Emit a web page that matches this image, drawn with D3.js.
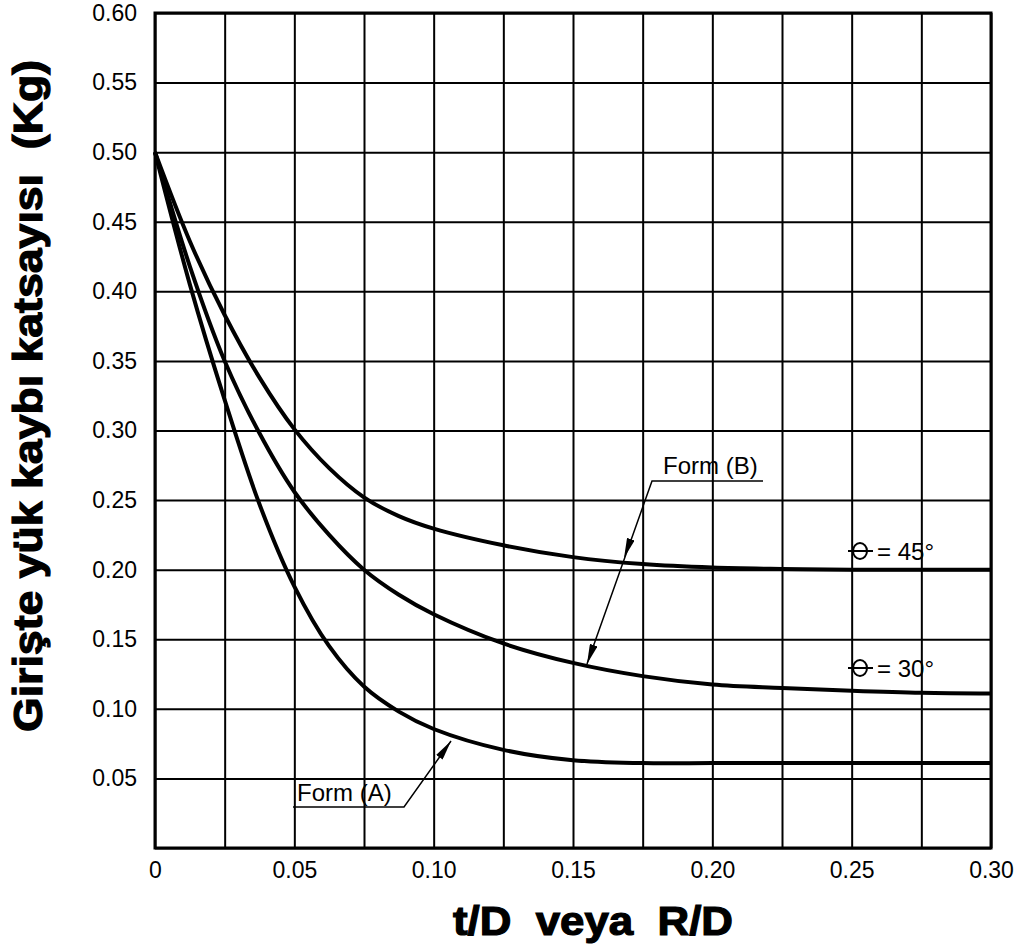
<!DOCTYPE html>
<html>
<head>
<meta charset="utf-8">
<script src="https://cdn.jsdelivr.net/npm/d3@7"></script>
<style>
  body { margin: 0; background: #fff; }
  text { font-family: "Liberation Sans", Arial, sans-serif; }
</style>
</head>
<body>
<div id="chart"></div>
<script>
var tdValues = [0, 0.0125, 0.025, 0.0375, 0.05, 0.0625, 0.075, 0.0875, 0.10, 0.125, 0.15, 0.175, 0.20, 0.225, 0.25, 0.275, 0.30];
var kg45 = [0.50, 0.436, 0.383, 0.338, 0.301, 0.273, 0.252, 0.2385, 0.2295, 0.2175, 0.209, 0.204, 0.2015, 0.2005, 0.200, 0.200, 0.200];
var kg30 = [0.50, 0.418, 0.350, 0.298, 0.256, 0.225, 0.200, 0.182, 0.168, 0.147, 0.133, 0.1235, 0.1175, 0.115, 0.113, 0.1115, 0.111];
var kgFormA = [0.50, 0.405, 0.322, 0.247, 0.188, 0.145, 0.116, 0.098, 0.0855, 0.0705, 0.063, 0.061, 0.061, 0.061, 0.061, 0.061, 0.061];
var xTicks = [0, 0.05, 0.10, 0.15, 0.20, 0.25, 0.30];
var yTicks = [0.05, 0.10, 0.15, 0.20, 0.25, 0.30, 0.35, 0.40, 0.45, 0.50, 0.55, 0.60];

var margin = {top: 13, right: 28, bottom: 99, left: 155},
    w = 1019,
    h = 947;
var width = w - margin.left - margin.right,
    height = h - margin.top - margin.bottom;

var svg = d3.select("#chart").append("svg")
    .attr("width", w)
    .attr("height", h);

var g = svg.append("g")
    .attr("transform", "translate(" + margin.left + "," + margin.top + ")");

var x = d3.scaleLinear().domain([0, 0.30]).range([0, width]);
var y = d3.scaleLinear().domain([0, 0.60]).range([height, 0]);

// grid
g.append("g")
  .attr("transform", "translate(0," + height + ")")
  .call(d3.axisBottom(x).tickValues(d3.range(0, 0.3001, 0.025)).tickSize(-height).tickFormat(""))
  .call(function(a) { a.select(".domain").remove(); a.selectAll("line").attr("stroke", "#000").attr("stroke-width", 2); });

g.append("g")
  .call(d3.axisLeft(y).tickValues(d3.range(0, 0.6001, 0.05)).tickSize(-width).tickFormat(""))
  .call(function(a) { a.select(".domain").remove(); a.selectAll("line").attr("stroke", "#000").attr("stroke-width", 2); });

// tick labels
g.append("g")
  .attr("transform", "translate(0," + height + ")")
  .call(d3.axisBottom(x).tickValues(xTicks).tickSize(0).tickPadding(14)
    .tickFormat(function(d) { return d === 0 ? "0" : d3.format(".2f")(d); }))
  .call(function(a) {
    a.select(".domain").remove();
    a.attr("font-size", 23).attr("font-family", "'Liberation Sans', Arial, sans-serif");
    a.selectAll("text").attr("fill", "#000");
  });

g.append("g")
  .call(d3.axisLeft(y).tickValues(yTicks).tickSize(0).tickPadding(18).tickFormat(d3.format(".2f")))
  .call(function(a) {
    a.select(".domain").remove();
    a.attr("font-size", 23).attr("font-family", "'Liberation Sans', Arial, sans-serif");
    a.selectAll("text").attr("fill", "#000");
  });

// frame
g.append("rect")
  .attr("width", width).attr("height", height)
  .attr("fill", "none").attr("stroke", "#000").attr("stroke-width", 3);

// curves
var line = d3.line()
  .x(function(d) { return x(d[0]); })
  .y(function(d) { return y(d[1]); })
  .curve(d3.curveCatmullRom.alpha(0.5));

[kg45, kg30, kgFormA].forEach(function(series) {
  g.append("path")
    .datum(tdValues.map(function(t, i) { return [t, series[i]]; }))
    .attr("d", line)
    .attr("fill", "none")
    .attr("stroke", "#000")
    .attr("stroke-width", 4)
    .attr("stroke-linejoin", "round");
});

// arrowhead marker
svg.append("defs").append("marker")
  .attr("id", "arr")
  .attr("viewBox", "0 0 20 8")
  .attr("refX", 20).attr("refY", 4)
  .attr("markerWidth", 20).attr("markerHeight", 8)
  .attr("markerUnits", "userSpaceOnUse")
  .attr("orient", "auto")
  .append("path").attr("d", "M0,0 L20,4 L0,8 Z").attr("fill", "#000");

// Form (B) annotation
var ann = svg.append("g");
ann.append("text").attr("x", 663).attr("y", 474).attr("font-size", 24).text("Form (B)");
ann.append("polyline")
  .attr("points", "763,481 652,481 587,664")
  .attr("fill", "none").attr("stroke", "#000").attr("stroke-width", 1.5)
  .attr("marker-end", "url(#arr)");
ann.append("line")
  .attr("x1", 652).attr("y1", 481).attr("x2", 624).attr("y2", 558)
  .attr("stroke", "none")
  .attr("marker-end", "url(#arr)");

// Form (A) annotation
ann.append("text").attr("x", 297).attr("y", 801).attr("font-size", 24).text("Form (A)");
ann.append("polyline")
  .attr("points", "293,807 404,807 451,741")
  .attr("fill", "none").attr("stroke", "#000").attr("stroke-width", 1.5)
  .attr("marker-end", "url(#arr)");

// theta labels
[[551, "= 45°"], [668, "= 30°"]].forEach(function(t) {
  var cy = t[0];
  ann.append("ellipse").attr("cx", 860).attr("cy", cy).attr("rx", 7).attr("ry", 8)
    .attr("fill", "none").attr("stroke", "#000").attr("stroke-width", 2);
  ann.append("line").attr("x1", 848).attr("x2", 873).attr("y1", cy).attr("y2", cy)
    .attr("stroke", "#000").attr("stroke-width", 2);
  ann.append("text").attr("x", 877).attr("y", cy + 9).attr("font-size", 24).text(t[1]);
});

// axis titles
svg.append("text")
  .attr("x", 453).attr("y", 935)
  .attr("font-size", 40).attr("font-weight", 900)
  .attr("stroke", "#000").attr("stroke-width", 1.2)
  .attr("textLength", 280).attr("lengthAdjust", "spacingAndGlyphs")
  .style("white-space", "pre")
  .text("t/D  veya  R/D");

svg.append("text")
  .attr("transform", "translate(42,732) rotate(-90)")
  .attr("font-size", 40).attr("font-weight", 900)
  .attr("stroke", "#000").attr("stroke-width", 1.2)
  .attr("textLength", 672).attr("lengthAdjust", "spacingAndGlyphs")
  .style("white-space", "pre")
  .text("Girişte yük kaybı katsayısı  (Kg)");
</script>
</body>
</html>
